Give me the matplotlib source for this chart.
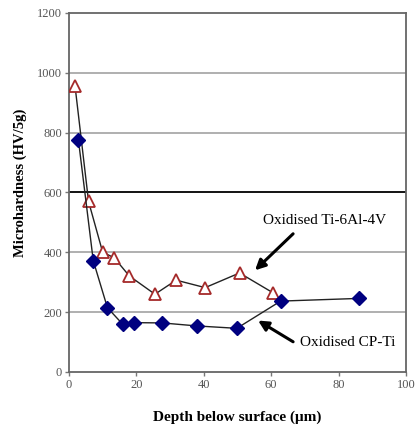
import matplotlib.pyplot as plt

# depth below surface (um) and microhardness (HV/5g)
ti64_depth = [1.8, 5.8, 10.0, 13.4, 17.9, 25.5, 31.8, 40.4, 50.6, 60.5]
ti64_hv = [955, 570, 400, 382, 321, 260, 307, 282, 331, 265]

cpti_depth = [2.8, 7.2, 11.4, 15.9, 19.3, 27.7, 37.9, 49.8, 62.8, 86.1]
cpti_hv = [775, 372, 215, 160, 165, 164, 154, 146, 237, 246]

x_ticks = [0, 20, 40, 60, 80, 100]
y_ticks = [0, 200, 400, 600, 800, 1000, 1200]

serif = ['Liberation Serif', 'DejaVu Serif']

fig = plt.figure(figsize=(4.16, 4.30), dpi=100)
ax = fig.add_axes([69 / 416, 58 / 430, 337 / 416, 359 / 430])

for y in y_ticks[1:-1]:
    ax.axhline(y, color='black' if y == 600 else '#9a9a9a',
               lw=1.3 if y == 600 else 1.1, zorder=0)

ax.plot(ti64_depth, ti64_hv, color='#222222', lw=1.0, marker='^', ms=8,
        mfc='white', mec='#a52a2a', mew=1.3, zorder=3)
ax.plot(cpti_depth, cpti_hv, color='#222222', lw=1.0, marker='D', ms=7.5,
        mfc='#000080', mec='#000080', zorder=3)

ax.set_xlim(0, 100)
ax.set_ylim(0, 1200)
ax.set_xticks(x_ticks)
ax.set_yticks(y_ticks)
for lbl in ax.get_xticklabels() + ax.get_yticklabels():
    lbl.set_family(serif)
    lbl.set_fontsize(9)
    lbl.set_color('#555555')
ax.tick_params(direction='out', length=3, width=1, color='#777777', pad=2)
for s in ax.spines.values():
    s.set_color('#666666')
    s.set_linewidth(1.3)

ax.set_xlabel('Depth below surface (\u03bcm)', family=serif, fontweight='bold',
              fontsize=11)
ax.xaxis.set_label_coords(0.5, -39 / 359)
ax.set_ylabel('Microhardness (HV/5g)', family=serif, fontweight='bold',
              fontsize=10.5)
ax.yaxis.set_label_coords(-42 / 337, 0.526)

arrow = dict(arrowstyle='-|>,head_width=0.3,head_length=0.6', color='black',
             lw=2.2, shrinkA=0, shrinkB=0)
ax.annotate('', xy=(55.2, 340), xytext=(66.5, 462), arrowprops=arrow)
ax.text(75.8, 505, 'Oxidised Ti-6Al-4V', ha='center', va='center',
        family=serif, fontsize=11)
ax.annotate('', xy=(56.1, 172), xytext=(66.5, 101), arrowprops=arrow)
ax.text(82.6, 97, 'Oxidised CP-Ti', ha='center', va='center',
        family=serif, fontsize=11)

fig.savefig('out.png', dpi=100)
